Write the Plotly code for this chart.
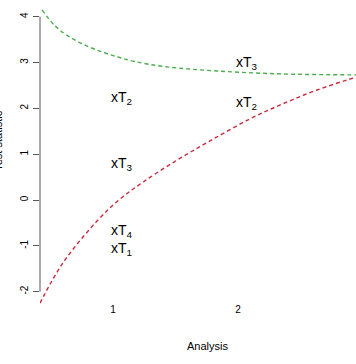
import plotly.graph_objects as go

# Boundary curves
upper_x = [0.432, 0.536, 0.64, 0.776, 0.912, 1.04, 1.176, 1.416, 1.832, 2.36, 2.944, 3.0]
upper_y = [4.15, 3.80, 3.58, 3.38, 3.23, 3.12, 3.02, 2.91, 2.815, 2.75, 2.73, 2.73]

lower_x = [0.416, 0.60, 0.872, 1.056, 1.24, 1.512, 1.776, 2.096, 2.36, 2.632, 2.944, 3.0]
lower_y = [-2.25, -1.37, -0.46, 0.02, 0.39, 0.87, 1.29, 1.77, 2.10, 2.40, 2.68, 2.72]

# Test statistic labels
label_x = [1, 1, 1, 1, 2, 2]
label_y = [2.25, 0.81, -0.66, -1.04, 3.01, 2.14]
label_sub = ["2", "3", "4", "1", "3", "2"]

xticks = [1, 2]
yticks = [-2, -1, 0, 1, 2, 3, 4]

FONT = "Liberation Sans, Arial, Helvetica, sans-serif"

fig = go.Figure()
fig.add_trace(go.Scatter(x=upper_x, y=upper_y, mode="lines", line_shape="spline",
                         line=dict(color="#4cad4c", width=1.4, dash="4px,3px"),
                         hoverinfo="skip"))
fig.add_trace(go.Scatter(x=lower_x, y=lower_y, mode="lines", line_shape="spline",
                         line=dict(color="#cc2a3c", width=1.4, dash="4px,3px"),
                         hoverinfo="skip"))

for lx, ly, s in zip(label_x, label_y, label_sub):
    fig.add_annotation(x=lx, y=ly, xref="x", yref="y", text="xT<sub>%s</sub>" % s,
                       showarrow=False, xanchor="left", yanchor="middle", xshift=-4, yshift=-1,
                       font=dict(family=FONT, size=14, color="black"))

# y-axis line from lowest to highest tick (R style)
fig.add_shape(type="line", xref="paper", yref="y", x0=0, x1=0, y0=min(yticks), y1=max(yticks),
              line=dict(color="#555555", width=1))

fig.add_annotation(xref="paper", yref="paper", x=(207 - 40) / 316, y=-0.132, text="Analysis",
                   showarrow=False, yanchor="middle",
                   font=dict(family=FONT, size=11, color="black"))
fig.add_annotation(xref="paper", yref="paper", x=0, xshift=-42, y=0.54, text="Test statistic",
                   textangle=-90, showarrow=False, xanchor="center", yanchor="middle",
                   font=dict(family=FONT, size=11, color="black"))

fig.update_layout(
    width=356, height=364,
    margin=dict(l=40, r=0, t=0, b=58, autoexpand=False),
    plot_bgcolor="white", paper_bgcolor="white",
    showlegend=False,
    font=dict(family=FONT, size=10, color="black"),
    xaxis=dict(range=[0.416, 2.944], tickvals=xticks, ticktext=[str(v) for v in xticks],
               showline=False, showgrid=False, zeroline=False, ticks="",
               tickfont=dict(size=10), automargin=False, ticklabelstandoff=-4),
    yaxis=dict(range=[-2.313, 4.364], tickvals=yticks, ticktext=[str(v) for v in yticks],
               showline=False, showgrid=False, zeroline=False, ticks="outside",
               ticklen=6, tickcolor="#555555", tickangle=-90, tickfont=dict(size=10),
               automargin=False, ticklabelstandoff=1),
)

fig.write_html("out.html", config={"displayModeBar": False},
               post_script="document.body.style.margin='0px';document.body.style.overflow='hidden';")
